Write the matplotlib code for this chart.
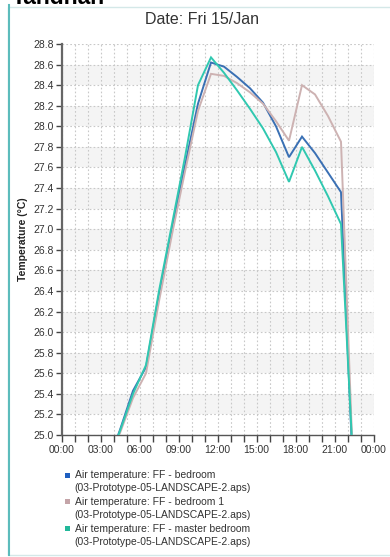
import matplotlib
matplotlib.use("Agg")
import matplotlib.pyplot as plt
from matplotlib.patches import Rectangle
from matplotlib.lines import Line2D
import numpy as np

plt.rcParams['font.family'] = ['Liberation Sans', 'DejaVu Sans']

# ---- data ----
hours = [3.5, 4.5, 5.5, 6.5, 7.5, 8.5, 9.5, 10.5, 11.5, 12.5, 13.5,
         14.5, 15.5, 16.5, 17.5, 18.5, 19.5, 20.5, 21.5, 22.5]
bedroom = [24.70, 25.05, 25.43, 25.66, 26.36, 27.00, 27.62, 28.22, 28.62, 28.58, 28.48,
           28.37, 28.23, 28.00, 27.70, 27.90, 27.74, 27.55, 27.36, 24.40]
bedroom1 = [24.70, 25.02, 25.36, 25.60, 26.30, 26.95, 27.56, 28.15, 28.51, 28.49, 28.42,
            28.33, 28.22, 28.05, 27.86, 28.40, 28.31, 28.10, 27.85, 24.45]
master = [24.70, 25.04, 25.40, 25.68, 26.40, 27.05, 27.70, 28.40, 28.67, 28.52, 28.35,
          28.17, 27.98, 27.75, 27.46, 27.80, 27.57, 27.32, 27.05, 24.55]
series_labels = ["Air temperature: FF - bedroom",
                 "Air temperature: FF - bedroom 1",
                 "Air temperature: FF - master bedroom"]
source_label = "(03-Prototype-05-LANDSCAPE-2.aps)"
xtick_labels = ["00:00", "03:00", "06:00", "09:00", "12:00", "15:00", "18:00", "21:00", "00:00"]
title = "Date: Fri 15/Jan"
ylabel = "Temperature (\u00b0C)"

line_colors = ['#3a70b4', '#cdb2b2', '#30c8b0']
legend_colors = ['#1f5fc0', '#c4a4a8', '#22b89a']

W, H = 390, 557
fig = plt.figure(figsize=(W / 100, H / 100), dpi=100)

def fx(px):
    return px / W

def fy(py):
    return 1 - py / H

# panel border
fig.patches.append(Rectangle((fx(8), fy(555)), fx(392) - fx(8), fy(7) - fy(555),
                             transform=fig.transFigure, fill=False,
                             edgecolor='#d4e8e8', linewidth=1.0))
fig.lines.append(Line2D([fx(8.5), fx(8.5)], [fy(5), fy(555)], transform=fig.transFigure,
                        color='#5cbcbc', linewidth=1.5))

# cut-off heading
fig.text(fx(12), fy(4.5), "Tandhan", fontsize=16.5, fontweight='bold', color='black',
         ha='left', va='baseline')

ax = fig.add_axes([fx(61.5), fy(435), fx(373.5) - fx(61.5), fy(44) - fy(435)])

ymin, ymax = 25.0, 28.8
yticks = np.round(np.arange(ymin, ymax + 0.001, 0.2), 1)
for y0 in yticks[1::2]:
    if y0 + 0.2 <= ymax + 1e-6:
        ax.axhspan(y0, y0 + 0.2, color='#f4f4f4', zorder=0, lw=0)

for vals, c in zip([bedroom, bedroom1, master], line_colors):
    ax.plot(hours, vals, color=c, linewidth=1.4, zorder=3, solid_joinstyle='miter')

ax.set_xlim(0, 24)
ax.set_ylim(ymin, ymax)
ax.set_xticks(np.arange(0, 24.01, 3))
ax.set_xticklabels(xtick_labels)
ax.set_xticks(np.arange(0, 24.01, 1), minor=True)
ax.set_yticks(yticks)
ax.set_yticklabels([f"{v:.1f}" for v in yticks])

ax.grid(True, which='both', axis='x', color='#c8c8c8', linestyle=(0, (1.5, 2)), linewidth=0.8, zorder=1)
ax.grid(True, which='major', axis='y', color='#c8c8c8', linestyle=(0, (1.5, 2)), linewidth=0.8, zorder=1)

for s in ['top', 'right']:
    ax.spines[s].set_visible(False)
ax.spines['left'].set_color('#666666')
ax.spines['left'].set_linewidth(1.6)
ax.spines['bottom'].set_color('#555555')
ax.spines['bottom'].set_linewidth(1.0)

ax.tick_params(axis='both', which='both', direction='out', color='#444444',
               labelsize=7.5, labelcolor='#333333')
ax.tick_params(axis='x', which='major', length=5, width=1, pad=2)
ax.tick_params(axis='x', which='minor', length=5, width=1)
ax.tick_params(axis='y', length=4, width=1, pad=1.5)

fig.text(fx(201.5), fy(20), title, fontsize=11.5, color='#333333', ha='center', va='center')
fig.text(fx(23), fy(239.5), ylabel, fontsize=7.5, fontweight='bold', color='#222222',
         rotation=90, ha='center', va='center')

# legend
line_y = [475, 488.3, 501.7, 515, 528.5, 541.7]
for i, (lab, c) in enumerate(zip(series_labels, legend_colors)):
    y1 = line_y[2 * i]
    y2 = line_y[2 * i + 1]
    fig.patches.append(Rectangle((fx(64.5), fy(y1 + 2.5)), fx(5), 5 / H,
                                 transform=fig.transFigure, facecolor=c, edgecolor='none'))
    fig.text(fx(75), fy(y1), lab, fontsize=7.5, color='#333333', ha='left', va='center')
    fig.text(fx(74.5), fy(y2), source_label, fontsize=7.5, color='#333333', ha='left', va='center')

fig.savefig("out.png", dpi=100)
